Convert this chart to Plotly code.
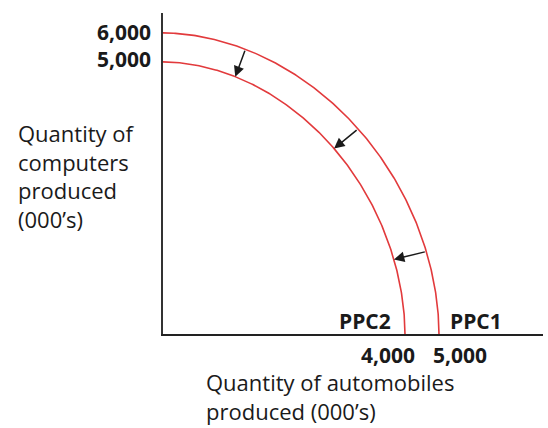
import numpy as np
import plotly.graph_objects as go

# Production possibility curves: maximum output of each good (thousands)
ppc_names = ["PPC1", "PPC2"]
max_automobiles = [5000, 4000]
max_computers = [6000, 5000]

# Intercept labels
x_tick_labels = ["5,000", "4,000"]
y_tick_labels = ["6,000", "5,000"]

# Axis titles, one entry per line
y_title_lines = ["Quantity of", "computers", "produced", "(000’s)"]
x_title_lines = ["Quantity of automobiles", "produced (000’s)"]

# Schematic axes: the corner of the chart is not drawn to zero
X_CORNER, X_END = -3117, 8059
Y_CORNER, Y_END = -4382, 6687
CURVE_POWER = 1.9              # superellipse exponent of the bowed-out curves
ARROW_ANGLES = [71.5, 44, 17]  # where the inward-shift arrows sit (degrees)

W, H = 548, 428
M_L, M_R, M_T, M_B = 163, 5, 13, 94
PLOT_W, PLOT_H = W - M_L - M_R, H - M_T - M_B

RED = "#e23a3c"
INK = "#1a1a1a"
FONT = "Open Sans"


def paper_x(px):
    return (px - M_L) / PLOT_W


def paper_y(py):
    return (H - M_B - py) / PLOT_H


def ppc_point(x_max, y_max, theta):
    c = np.abs(np.cos(theta)) ** (2 / CURVE_POWER)
    s = np.abs(np.sin(theta)) ** (2 / CURVE_POWER)
    return X_CORNER + (x_max - X_CORNER) * c, Y_CORNER + (y_max - Y_CORNER) * s


fig = go.Figure()
t = np.linspace(0, np.pi / 2, 240)
for name, xm, ym in zip(ppc_names, max_automobiles, max_computers):
    x, y = ppc_point(xm, ym, t)
    fig.add_trace(go.Scatter(x=x, y=y, mode="lines", name=name,
                             line=dict(color=RED, width=1.6),
                             hoverinfo="skip", showlegend=False))

# Arrows showing the inward shift from PPC1 to PPC2
for ang in ARROW_ANGLES:
    th = np.radians(ang)
    x1, y1 = ppc_point(max_automobiles[0], max_computers[0], th)
    x2, y2 = ppc_point(max_automobiles[1], max_computers[1], th)
    fig.add_annotation(x=x2, y=y2, ax=x1, ay=y1, xref="x", yref="y",
                       axref="x", ayref="y", text="", showarrow=True,
                       arrowhead=2, arrowsize=1.4, arrowwidth=1.5,
                       arrowcolor=INK, standoff=0, startstandoff=0)

bold = dict(family=FONT, size=21, color=INK, weight="bold")
reg = dict(family=FONT, size=22, color=INK)

# Y-axis intercept labels, stacked beside the vertical axis
fig.add_annotation(x=0, xref="paper", y=sum(max_computers) / 2, yref="y",
                   text="<br>".join(y_tick_labels), showarrow=False,
                   xanchor="right", yanchor="middle", align="right",
                   xshift=-10, yshift=2, font=bold)

# X-axis intercept labels, set either side of the gap between the curves
fig.add_annotation(x=max_automobiles[1], xref="x", y=paper_y(355), yref="paper",
                   text=x_tick_labels[1], showarrow=False, xanchor="right",
                   yanchor="middle", xshift=12, font=bold)
fig.add_annotation(x=max_automobiles[0], xref="x", y=paper_y(355), yref="paper",
                   text=x_tick_labels[0], showarrow=False, xanchor="left",
                   yanchor="middle", xshift=-8, font=bold)

# Curve names just above the horizontal axis
fig.add_annotation(x=max_automobiles[1], xref="x", y=paper_y(321), yref="paper",
                   text=ppc_names[1], showarrow=False, xanchor="right",
                   yanchor="middle", xshift=-12, font=bold)
fig.add_annotation(x=max_automobiles[0], xref="x", y=paper_y(321), yref="paper",
                   text=ppc_names[0], showarrow=False, xanchor="left",
                   yanchor="middle", xshift=9, font=bold)

# Axis titles
fig.add_annotation(x=paper_x(16), xref="paper", y=paper_y(175.5), yref="paper",
                   text="<br>".join(y_title_lines), showarrow=False,
                   xanchor="left", yanchor="middle", align="left", font=reg)
fig.add_annotation(x=paper_x(204), xref="paper", y=paper_y(397), yref="paper",
                   text="<br>".join(x_title_lines), showarrow=False,
                   xanchor="left", yanchor="middle", align="left", font=reg)

axis_common = dict(showgrid=False, zeroline=False, showticklabels=False,
                   ticks="", showline=True, linewidth=2)
fig.update_xaxes(range=[X_CORNER, X_END], linecolor="#222222", **axis_common)
fig.update_yaxes(range=[Y_CORNER, Y_END], linecolor="#333333", **axis_common)

fig.update_layout(width=W, height=H,
                  margin=dict(l=M_L, r=M_R, t=M_T, b=M_B),
                  plot_bgcolor="white", paper_bgcolor="white",
                  showlegend=False)

fig.write_html("out.html")
